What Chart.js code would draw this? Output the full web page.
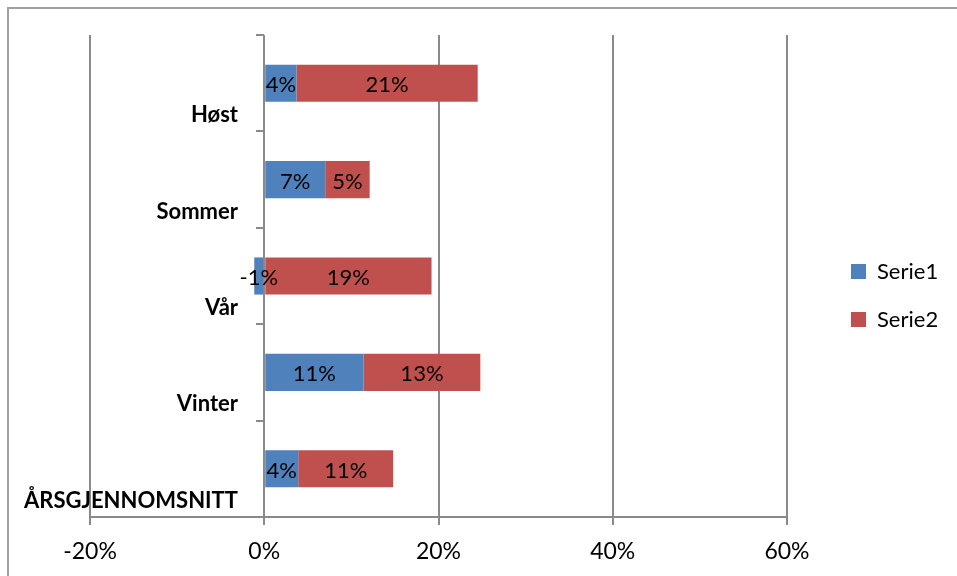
<!DOCTYPE html>
<html>
<head>
<meta charset="utf-8">
<script src="https://cdn.jsdelivr.net/npm/chart.js@4/dist/chart.umd.min.js"></script>
<style>
  html, body { margin:0; padding:0; background:#fff; overflow:hidden; }
  #wrap { position:relative; width:957px; height:576px; }
  #frame { position:absolute; left:7px; top:7px; width:960px; height:600px; border-left:2px solid #a0a0a0; border-top:2px solid #a0a0a0; }
  canvas { position:absolute; left:0; top:0; }
</style>
</head>
<body>
<div id="wrap">
  <div id="frame"></div>
  <canvas id="chart" width="957" height="576"></canvas>
</div>
<script>
// data (percent)
const categories = ['Høst', 'Sommer', 'Vår', 'Vinter', 'ÅRSGJENNOMSNITT'];
const serie1 = [3.7, 7.0, -1.15, 11.4, 3.9];
const serie2 = [20.8, 5.1, 19.2, 13.4, 10.9];
const xTicks = [-20, 0, 20, 40, 60];

const FONT = 'Lato, "Open Sans", sans-serif';
const GRID = '#8a8a8a';
const CAT_FONT = 'bold 22px ' + FONT;

// category labels end 26px left of the zero line; measure the widest one
const measure = document.createElement('canvas').getContext('2d');
measure.font = CAT_FONT;
const widest = Math.max(...categories.map(c => measure.measureText(c).width));

// bar value labels, centred in each segment
const valueLabels = {
  id: 'valueLabels',
  afterDatasetsDraw(chart) {
    const ctx = chart.ctx;
    ctx.save();
    ctx.font = '22px ' + FONT;
    ctx.fillStyle = '#000';
    ctx.textAlign = 'center';
    ctx.textBaseline = 'middle';
    chart.data.datasets.forEach((ds, i) => {
      chart.getDatasetMeta(i).data.forEach((bar, j) => {
        ctx.fillText(Math.round(ds.data[j]) + '%', (bar.x + bar.base) / 2, bar.y + 2);
      });
    });
    ctx.restore();
  }
};

// small category ticks on the zero line
const zeroTicks = {
  id: 'zeroTicks',
  afterDraw(chart) {
    const {ctx, scales: {x, y}} = chart;
    const x0 = Math.round(x.getPixelForValue(0));
    ctx.save();
    ctx.strokeStyle = GRID;
    ctx.lineWidth = 2;
    ctx.beginPath();
    for (let i = 0; i <= categories.length; i++) {
      const py = Math.round(y.getPixelForValue(i - 0.5));
      ctx.moveTo(x0 - 8, py);
      ctx.lineTo(x0, py);
    }
    ctx.stroke();
    ctx.restore();
  }
};

// push the legend away from the plot (and widen its clip box)
const legendShift = {
  id: 'legendShift',
  afterLayout(chart) {
    const lg = chart.legend;
    lg.left += 38; lg.right = chart.width;
    lg.top -= 10; lg.bottom -= 10;
  }
};

new Chart(document.getElementById('chart'), {
  type: 'bar',
  data: {
    labels: categories,
    datasets: [
      { label: 'Serie1', data: serie1, backgroundColor: '#4F81BD' },
      { label: 'Serie2', data: serie2, backgroundColor: '#C0504D' }
    ]
  },
  options: {
    indexAxis: 'y',
    responsive: false,
    animation: false,
    layout: { padding: { top: 35, right: 110, left: 0, bottom: 0 } },
    datasets: { bar: { categoryPercentage: 1, barPercentage: 0.385 } },
    scales: {
      x: {
        stacked: true,
        min: xTicks[0],
        max: xTicks[xTicks.length - 1],
        afterBuildTicks: s => { s.ticks = xTicks.map(v => ({ value: v })); },
        afterFit: s => { s.height = 59; },
        grid: { color: GRID, lineWidth: 2, tickLength: 8 },
        border: { color: GRID, width: 2 },
        ticks: { color: '#000', font: { family: FONT, size: 23 }, padding: 13, callback: v => v + '%' }
      },
      y: {
        stacked: true,
        afterFit: s => { s.width = 90; },
        grid: { display: false, drawTicks: false },
        border: { display: false },
        ticks: {
          color: '#000', font: { family: FONT, size: 22, weight: 'bold' },
          mirror: true, crossAlign: 'far', padding: 148 - widest, labelOffset: 32
        }
      }
    },
    plugins: {
      legend: {
        position: 'right',
        maxWidth: 60,
        labels: { color: '#000', font: { family: FONT, size: 22 }, boxWidth: 15, boxHeight: 15, padding: 26 }
      },
      tooltip: { enabled: false }
    }
  },
  plugins: [valueLabels, zeroTicks, legendShift]
});
</script>
</body>
</html>
